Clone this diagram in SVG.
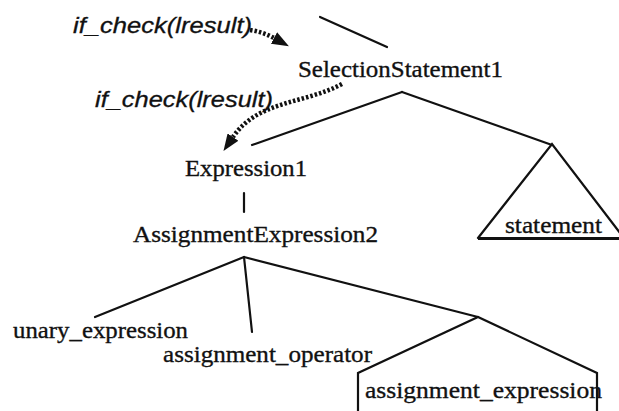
<svg xmlns="http://www.w3.org/2000/svg" width="619" height="411" viewBox="0 0 619 411">
  <style>
    .lbl { font-family: "Liberation Serif", "Times New Roman", serif; font-size: 24px; fill: #111; stroke: #111; stroke-width: 0.35; }
    .ann { font-family: "Liberation Sans", Arial, sans-serif; font-style: italic; font-size: 22px; fill: #111; stroke: #111; stroke-width: 0.3; }
    .edge { stroke: #111; stroke-width: 2.2; fill: none; stroke-linecap: round; }
    .flow { stroke: #111; stroke-width: 4.5; fill: none; stroke-dasharray: 2.5 2; }
  </style>
  <defs>
    <marker id="head" viewBox="0 0 17 13" refX="0" refY="6.5" markerUnits="userSpaceOnUse" markerWidth="17" markerHeight="13" orient="auto">
      <path d="M0,0 L17,6.5 L0,13 z" fill="#111"/>
    </marker>
  </defs>

  <rect width="619" height="411" fill="#fff"/>

  <!-- tree edges -->
  <g id="connectors">
    <line class="edge" x1="320" y1="17" x2="387" y2="47"/>
    <line class="edge" x1="402" y1="92" x2="252" y2="145"/>
    <line class="edge" x1="402" y1="92" x2="552" y2="145"/>
    <line class="edge" x1="244" y1="193" x2="244" y2="212"/>
    <line class="edge" x1="244" y1="257" x2="95" y2="317"/>
    <line class="edge" x1="244" y1="257" x2="252" y2="332"/>
    <line class="edge" x1="244" y1="257" x2="478" y2="317"/>
    <!-- control-flow arrows -->
    <path class="flow" d="M250,30 Q263,32 274,38" marker-end="url(#head)"/>
    <path class="flow" d="M342,84 C305,104 258,100 233,137" marker-end="url(#head)"/>
  </g>

  <g id="annot1">
    <text class="ann" x="73" y="33" textLength="179" lengthAdjust="spacingAndGlyphs">if_check(lresult)</text>
  </g>
  <g id="annot2">
    <text class="ann" x="95" y="107" textLength="178" lengthAdjust="spacingAndGlyphs">if_check(lresult)</text>
  </g>

  <g id="selection">
    <text class="lbl" x="298" y="77" textLength="205" lengthAdjust="spacingAndGlyphs">SelectionStatement1</text>
  </g>
  <g id="expression1">
    <text class="lbl" x="185" y="176" textLength="122" lengthAdjust="spacingAndGlyphs">Expression1</text>
  </g>
  <g id="assignment2">
    <text class="lbl" x="133" y="242" textLength="245" lengthAdjust="spacingAndGlyphs">AssignmentExpression2</text>
  </g>
  <g id="statement">
    <path class="edge" d="M478,238 L552,144 L630,246"/>
    <line x1="478" y1="238.5" x2="619" y2="238.5" stroke="#111" stroke-width="3"/>
    <text class="lbl" x="505" y="233" textLength="97" lengthAdjust="spacingAndGlyphs">statement</text>
  </g>
  <g id="unary">
    <text class="lbl" x="13" y="338" textLength="175" lengthAdjust="spacingAndGlyphs">unary_expression</text>
  </g>
  <g id="operator">
    <text class="lbl" x="163" y="362" textLength="209" lengthAdjust="spacingAndGlyphs">assignment_operator</text>
  </g>
  <g id="assign-expr">
    <path class="edge" d="M358,412 L358,373 L478,317 L597,373 L597,412"/>
    <text class="lbl" x="365" y="398" textLength="237" lengthAdjust="spacingAndGlyphs">assignment_expression</text>
  </g>
</svg>
